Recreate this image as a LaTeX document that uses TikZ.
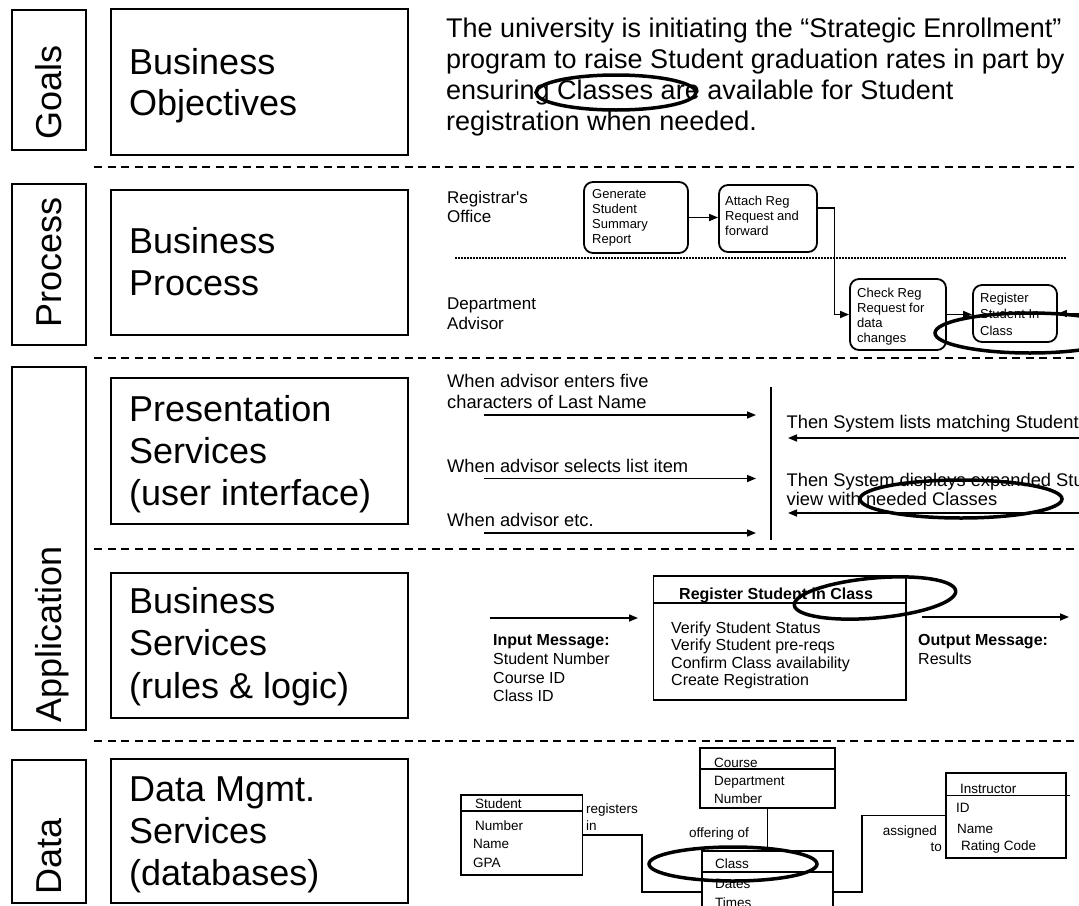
\documentclass[tikz,border=0pt]{standalone}
\usepackage{fontspec}
\setmainfont{Liberation Sans}
\usetikzlibrary{arrows.meta}
\begin{document}
\begin{tikzpicture}[x=1pt,y=-1pt,
  box/.style={draw, line width=1.6pt, inner sep=0pt},
  big/.style={font=\fontsize{36}{41}\selectfont, anchor=base west, inner sep=0pt},
  vlab/.style={font=\fontsize{36}{41}\selectfont, rotate=90, anchor=base, inner sep=0pt},
  sep/.style={line width=1.8pt, dash pattern=on 8pt off 5.5pt},
  para/.style={font=\fontsize{27}{31}\selectfont, anchor=base west, inner sep=0pt},
  ptxt/.style={font=\fontsize{17}{19.5}\selectfont, anchor=base west, inner sep=0pt},
  stxt/.style={font=\fontsize{13}{15}\selectfont, anchor=base west, inner sep=0pt},
  rbox/.style={draw, line width=1.8pt, rounded corners=9pt, inner sep=0pt},
  itxt/.style={font=\fontsize{18.3}{21}\selectfont, anchor=base west, inner sep=0pt},
  btxt/.style={font=\fontsize{16}{18}\selectfont, anchor=base west, inner sep=0pt},
  bbold/.style={font=\fontsize{16}{18}\selectfont\bfseries, anchor=base west, inner sep=0pt},
  dtxt/.style={font=\fontsize{13.5}{15}\selectfont, anchor=base west, inner sep=0pt},
  dtxtr/.style={font=\fontsize{13.5}{15}\selectfont, anchor=base east, inner sep=0pt},
  dbox/.style={draw, line width=1.8pt, inner sep=0pt},
  conn/.style={line width=1.6pt},
  arr/.style={line width=1.6pt, -{Triangle[length=9pt,width=7pt]}},
  oval/.style={line width=3.5pt}]
\useasboundingbox (0,0) rectangle (1079,905);
\clip (0,0) rectangle (1079,905);

% ---------- left column ----------
\node[box, minimum width=74pt, minimum height=140pt] (gbox) at (49,80) {};
\node[vlab] (glab) at (61,92.5) {Goals};
\node[box, minimum width=74pt, minimum height=161pt] (pbox) at (49,264.5) {};
\node[vlab] (plab) at (61,262.5) {Process};
\node[box, minimum width=74pt, minimum height=363pt] (abox) at (49,548.5) {};
\node[vlab] (alab) at (61,634.5) {Application};
\node[box, minimum width=74pt, minimum height=143pt] (dbox) at (49,831.5) {};
\node[vlab] (dlab) at (61,856.5) {Data};

\node[box, minimum width=297pt, minimum height=146pt] (bo) at (259.5,82) {};
\node[big] (bo1) at (129,74) {Business};
\node[big] (bo2) at (129,115) {Objectives};
\node[box, minimum width=297pt, minimum height=145pt] (bp) at (259.5,262.5) {};
\node[big] (bp1) at (129,253.5) {Business};
\node[big] (bp2) at (129,295) {Process};
\node[box, minimum width=297pt, minimum height=146pt] (ps) at (259.5,451) {};
\node[big] (ps1) at (129,421.5) {Presentation};
\node[big] (ps2) at (129,463) {Services};
\node[big] (ps3) at (129,505) {(user interface)};
\node[box, minimum width=297pt, minimum height=145pt] (bs) at (259.5,645.5) {};
\node[big] (bs1) at (129,613) {Business};
\node[big] (bs2) at (129,655.5) {Services};
\node[big] (bs3) at (129,698) {(rules \& logic)};
\node[box, minimum width=297pt, minimum height=144pt] (dm) at (259.5,831) {};
\node[big] (dm1) at (129,801.5) {Data Mgmt.};
\node[big] (dm2) at (129,843) {Services};
\node[big] (dm3) at (129,885) {(databases)};

% ---------- separators ----------
\draw[sep] (94,167) -- (1079,167);
\draw[sep] (94,358) -- (1079,358);
\draw[sep] (94,549) -- (1079,549);
\draw[sep] (94,741) -- (1079,741);

% ---------- goals ----------
\node[para] (t1) at (446,37) {The university is initiating the “Strategic Enrollment”};
\node[para] (t2) at (446,68) {program to raise Student graduation rates in part by};
\node[para] (t3) at (446,99) {ensuring Classes are available for Student};
\node[para] (t4) at (446,130) {registration when needed.};
\draw[oval] (616,92.5) ellipse [x radius=80pt, y radius=17.5pt];

% ---------- process ----------
\node[ptxt] (ro1) at (447,203) {Registrar\textquotesingle s};
\node[ptxt] (ro2) at (447,222.5) {Office};
\node[ptxt] (da1) at (447,309.5) {Department};
\node[ptxt] (da2) at (447,329) {Advisor};
\draw[line width=1.5pt, dash pattern=on 1.5pt off 1.5pt] (455,258) -- (1066,258);

\node[rbox, minimum width=104pt, minimum height=71pt] (gen) at (636,217.5) {};
\node[stxt] (gen1) at (592,198) {Generate};
\node[stxt] (gen2) at (592,213) {Student};
\node[stxt] (gen3) at (592,228) {Summary};
\node[stxt] (gen4) at (592,243) {Report};
\node[rbox, minimum width=98pt, minimum height=67pt] (att) at (768,218.5) {};
\node[stxt] (att1) at (725,205) {Attach Reg};
\node[stxt] (att2) at (725,220) {Request and};
\node[stxt] (att3) at (725,235) {forward};
\node[rbox, minimum width=96pt, minimum height=71pt] (chk) at (898,314.5) {};
\node[stxt] (chk1) at (857,297) {Check Reg};
\node[stxt] (chk2) at (857,312) {Request for};
\node[stxt] (chk3) at (857,327) {data};
\node[stxt] (chk4) at (857,342) {changes};
\node[rbox, minimum width=84pt, minimum height=57pt] (reg) at (1015,313.5) {};
\node[stxt] (reg1) at (980,302) {Register};
\node[stxt] (reg2) at (980,318.5) {Student  In};
\node[stxt] (reg3) at (980,335) {Class};

\draw[arr] (gen.east) -- (gen.east -| att.west);
\draw[arr] ([yshift=10.5pt]att.east) -- ++(16.5,0) |- (chk.west);
\draw[arr] (chk.east) -- (chk.east -| reg.west);
\coordinate (regin) at (1079,313.5);
\draw[arr] (regin) -- (reg.east);
\draw[oval] (1030,333) ellipse [x radius=95pt, y radius=20pt];

% ---------- presentation ----------
\node[itxt] (w1a) at (447,387) {When advisor enters five};
\node[itxt] (w1b) at (447,408) {characters of Last Name};
\node[itxt] (w2) at (447,472) {When advisor selects list item};
\node[itxt] (w3) at (447,526) {When advisor etc.};
\node[itxt] (s1) at (786.5,428) {Then System lists matching Students};
\node[itxt] (s2a) at (786.5,486) {Then System displays expanded Student};
\node[itxt] (s2b) at (786.5,505) {view with needed Classes};
\coordinate (va) at (771,387);
\coordinate (vb) at (771,540);
\draw[line width=1.6pt] (va) -- (vb);
\coordinate (a1s) at (484,415); \coordinate (a1e) at (756,415);
\coordinate (a2s) at (484,478.5); \coordinate (a2e) at (756,478.5);
\coordinate (a3s) at (484,533); \coordinate (a3e) at (756,533);
\coordinate (b1s) at (1079,438); \coordinate (b1e) at (788,438);
\coordinate (b2s) at (1079,513); \coordinate (b2e) at (788,513);
\draw[arr] (a1s) -- (a1e);
\draw[arr] (a2s) -- (a2e);
\draw[arr] (a3s) -- (a3e);
\draw[arr] (b1s) -- (b1e);
\draw[arr] (b2s) -- (b2e);
\draw[oval] (961,499) ellipse [x radius=101pt, y radius=19pt];

% ---------- business services ----------
\node[box, minimum width=252.5pt, minimum height=124pt] (rs) at (779.75,638) {};
\draw[line width=1.6pt] (rs.west |- 0,603) -- (rs.east |- 0,603);
\node[bbold] (rst) at (679,599.5) {Register Student in Class};
\node[btxt] (rs1) at (671,633) {Verify Student Status};
\node[btxt] (rs2) at (671,650.5) {Verify Student pre-reqs};
\node[btxt] (rs3) at (671,668) {Confirm Class availability};
\node[btxt] (rs4) at (671,685.5) {Create Registration};
\coordinate (ins) at (489.5,618); \coordinate (ine) at (638,618);
\draw[arr] (ins) -- (ine);
\node[bbold] (im0) at (493,645) {Input Message:};
\node[btxt] (im1) at (493,664) {Student Number};
\node[btxt] (im2) at (493,683) {Course ID};
\node[btxt] (im3) at (493,701) {Class ID};
\coordinate (outs) at (922,617); \coordinate (oute) at (1069,617);
\draw[arr] (outs) -- (oute);
\node[bbold] (om0) at (918,645) {Output Message:};
\node[btxt] (om1) at (918,664) {Results};
\draw[oval, rotate around={5:(875,598)}] (875,598) ellipse [x radius=81pt, y radius=20pt];

% ---------- data ----------
\node[dbox, minimum width=121.5pt, minimum height=80pt] (stu) at (521.75,835) {};
\draw[line width=1.8pt] (stu.west |- 0,811) -- (stu.east |- 0,811);
\node[dtxt] (stu0) at (475,808) {Student};
\node[dtxt] (stu1) at (475,830) {Number};
\node[dtxt] (stu2) at (473,848) {Name};
\node[dtxt] (stu3) at (473,867) {GPA};
\node[dtxt] (rg1) at (586,813) {registers};
\node[dtxt] (rg2) at (586,830) {in};

\node[dbox, minimum width=135pt, minimum height=60pt] (cou) at (767.5,778) {};
\draw[line width=1.8pt] (cou.west |- 0,769) -- (cou.east |- 0,769);
\node[dtxt] (cou0) at (714,767) {Course};
\node[dtxt] (cou1) at (714,785) {Department};
\node[dtxt] (cou2) at (714,803) {Number};
\node[dtxt] (off) at (689,837) {offering of};

\node[dbox, minimum width=131pt, minimum height=110pt] (cls) at (767.5,906) {};
\draw[line width=1.8pt] (cls.west |- 0,872) -- (cls.east |- 0,872);
\node[dtxt] (cls0) at (715,868) {Class};
\node[dtxt] (cls1) at (715,888) {Dates};
\node[dtxt] (cls2) at (715,907) {Times};

\node[dbox, minimum width=120pt, minimum height=85pt] (inst) at (1006,815.5) {};
\draw[line width=1.8pt] (inst.west |- 0,795.5) -- (1070,795.5);
\node[dtxt] (in0) at (960,793) {Instructor};
\node[dtxt] (in1) at (956,812) {ID};
\node[dtxt] (in2) at (957,833) {Name};
\node[dtxt] (in3) at (961,850) {Rating Code};
\node[dtxtr] (as1) at (937,835) {assigned};
\node[dtxtr] (as2) at (942,851) {to};

\coordinate (k1) at (642,892);
\coordinate (k2) at (862,892);
\draw[conn] (stu.east) -| (k1) -- (k1 -| cls.west);
\draw[conn] (cou.south) -- (cls.north);
\draw[conn] (k2 -| cls.east) -- (k2) |- (inst.west);
\draw[oval] (733,864) ellipse [x radius=84pt, y radius=17pt];
\end{tikzpicture}
\end{document}
